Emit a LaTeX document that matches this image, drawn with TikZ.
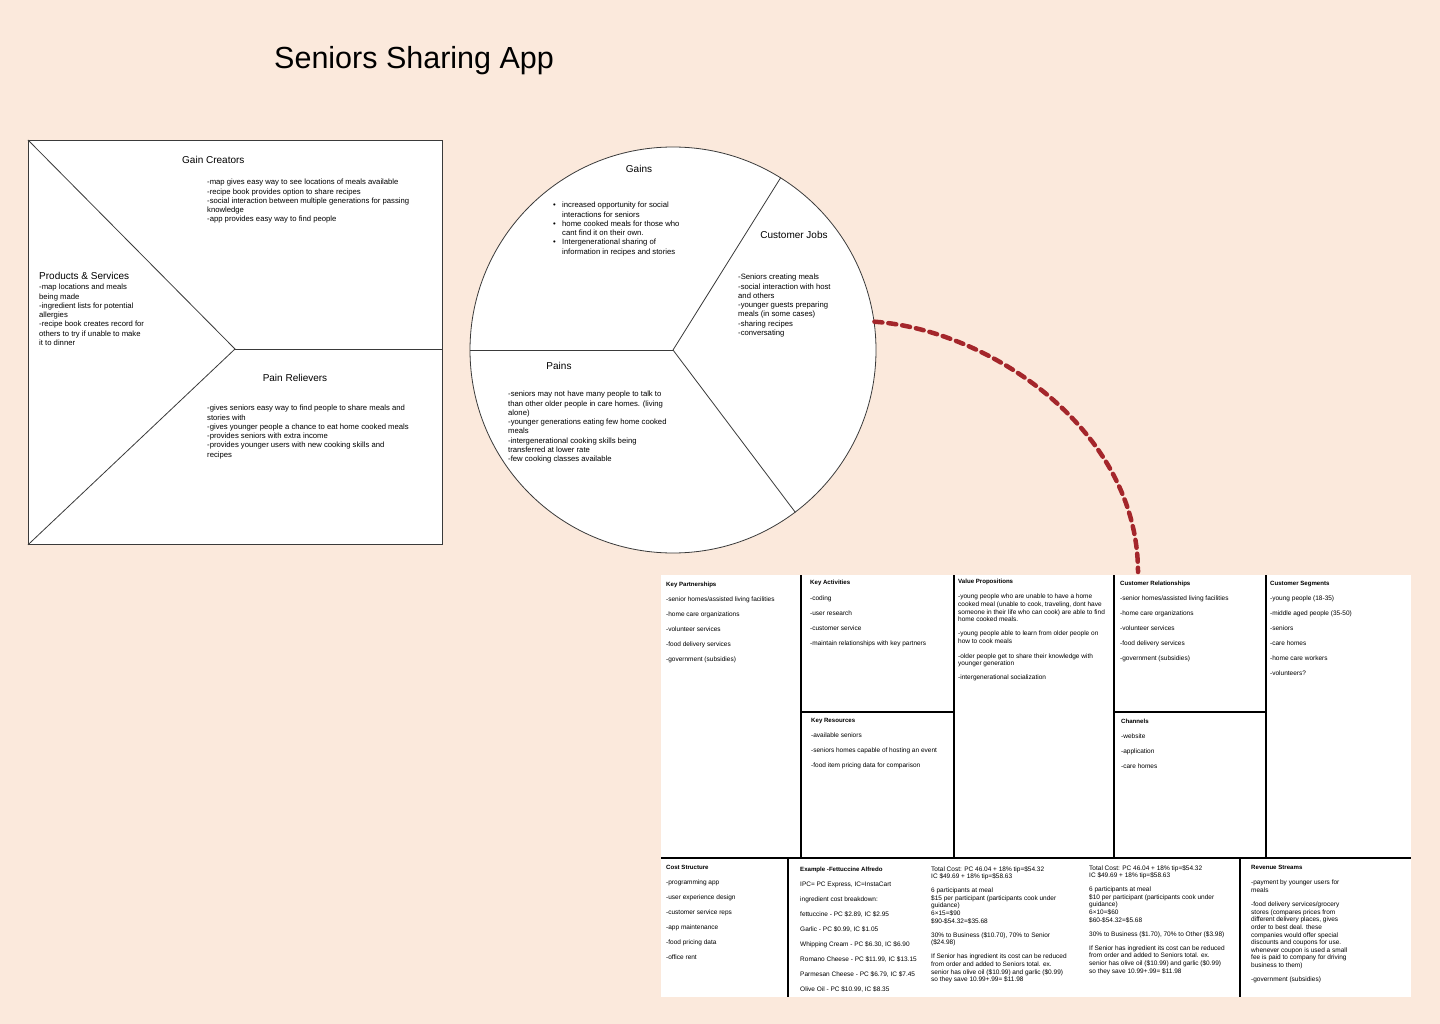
\documentclass[tikz,border=0pt]{standalone}
\usepackage{fontspec}
\setmainfont{Liberation Sans}
\definecolor{bgpeach}{HTML}{FBE9DC}
\definecolor{linegray}{HTML}{3A3A3A}
\definecolor{dashred}{HTML}{A4262B}
\begin{document}
\begin{tikzpicture}[x=1pt,y=-1pt,
  hd/.style={font=\fontsize{10}{12}\selectfont, inner sep=0},
  bd/.style={font=\fontsize{7.7}{9.25}\selectfont, align=left, inner sep=0, anchor=north west},
  bmchd/.style={font=\bfseries\fontsize{6.1}{7.6}\selectfont, inner sep=0, anchor=north west},
  bmcbd/.style={font=\fontsize{6.5}{7.6}\selectfont, align=left, inner sep=0, anchor=north west},
  thin line/.style={draw=linegray, line width=0.8pt},
  bmc line/.style={draw=black, line width=1.4pt},
  link/.style={draw=dashred, line width=4.5pt, dash pattern=on 8pt off 6pt, line cap=round}]
\fill[bgpeach] (0,0) rectangle (1440,1024);
\useasboundingbox (0,0) rectangle (1440,1024);

% title
\node[font=\fontsize{30.5}{34}\selectfont, anchor=west, inner sep=0] (title) at (274,61) {Seniors Sharing App};

% ---------- value map square ----------
\node[thin line, fill=white, minimum width=414, minimum height=404, inner sep=0, anchor=north west] (sq) at (28,140) {};
\coordinate (mid) at (235,349);
\draw[thin line] (sq.north west) -- (mid) -- (sq.south west);
\draw[thin line] (mid) -- (mid -| sq.east);

\node[hd, anchor=west] (gch) at (182,160) {Gain Creators};
\node[bd] (gcb) at (207,179) {-map gives easy way to see locations of meals available\\
-recipe book provides option to share recipes\\
-social interaction between multiple generations for passing\\
knowledge\\
-app provides easy way to find people};

\node[hd, anchor=west] (psh) at (39,276) {Products \& Services};
\node[bd] (psb) at (39,284) {-map locations and meals\\
being made\\
-ingredient lists for potential\\
allergies\\
-recipe book creates record for\\
others to try if unable to make\\
it to dinner};

\node[hd] (prh) at (295,378) {Pain Relievers};
\node[bd] (prb) at (207,405) {-gives seniors easy way to find people to share meals and\\
stories with\\
-gives younger people a chance to eat home cooked meals\\
-provides seniors with extra income\\
-provides younger users with new cooking skills and\\
recipes};

% ---------- customer profile circle ----------
\node[circle, thin line, fill=white, minimum size=406, inner sep=0] (vpc) at (673,350) {};
\draw[thin line] (vpc.center) -- (vpc.180);
\draw[thin line] (vpc.center) -- (vpc.58.5);
\draw[thin line] (vpc.center) -- (vpc.-53.6);

\node[hd] (gnh) at (639,169) {Gains};
\node[bd] (gnb) at (553,202) {\makebox[9pt][l]{\textbullet}increased opportunity for social\\
\hspace*{9pt}interactions for seniors\\
\makebox[9pt][l]{\textbullet}home cooked meals for those who\\
\hspace*{9pt}cant find it on their own.\\
\makebox[9pt][l]{\textbullet}Intergenerational sharing of\\
\hspace*{9pt}information in recipes and stories};

\node[hd] (cjh) at (794,235) {Customer Jobs};
\node[bd] (cjb) at (738,274) {-Seniors creating meals\\
-social interaction with host\\
and others\\
-younger guests preparing\\
meals (in some cases)\\
-sharing recipes\\
-conversating};

\node[hd] (pnh) at (559,366) {Pains};
\node[bd] (pnb) at (508,391) {-seniors may not have many people to talk to\\
than other older people in care homes. (living\\
alone)\\
-younger generations eating few home cooked\\
meals\\
-intergenerational cooking skills being\\
transferred at lower rate\\
-few cooking classes available};

% ---------- business model canvas ----------
\node[fill=white, minimum width=750, minimum height=422, inner sep=0, anchor=north west] (bmc) at (661,575) {};
\coordinate (cend) at (1138,572);
\draw[bmc line] (801,575) -- (801,858);
\draw[bmc line] (954,575) -- (954,858);
\draw[bmc line] (1114,575) -- (1114,858);
\draw[bmc line] (1266,575) -- (1266,858);
\draw[bmc line] (661,858) -- (1411,858);
\draw[bmc line] (801,712) -- (954,712);
\draw[bmc line] (1114,712) -- (1266,712);
\draw[bmc line] (788,858) -- (788,997);
\draw[bmc line] (1240,858) -- (1240,997);

\node[bmchd] (kph) at (666,582) {Key Partnerships};
\node[bmcbd] (kpb) at (666,597) {-senior homes/assisted living facilities\\[7.4pt]
-home care organizations\\[7.4pt]
-volunteer services\\[7.4pt]
-food delivery services\\[7.4pt]
-government (subsidies)};

\node[bmchd] (kah) at (810,580) {Key Activities};
\node[bmcbd] (kab) at (810,596) {-coding\\[7.4pt]
-user research\\[7.4pt]
-customer service\\[7.4pt]
-maintain relationships with key partners};

\node[bmchd] (krh) at (811,718) {Key Resources};
\node[bmcbd] (krb) at (811,733) {-available seniors\\[7.4pt]
-seniors homes capable of hosting an event\\[7.4pt]
-food item pricing data for comparison};

\node[bmchd] (vph) at (958,579) {Value Propositions};
\node[bmcbd] (vpb) at (958,594) {-young people who are unable to have a home\\
cooked meal (unable to cook, traveling, dont have\\
someone in their life who can cook) are able to find\\
home cooked meals.\\[6.5pt]
-young people able to learn from older people on\\
how to cook meals\\[7pt]
-older people get to share their knowledge with\\
younger generation\\[6.5pt]
-intergenerational socialization};

\node[bmchd] (crh) at (1120,581) {Customer Relationships};
\node[bmcbd] (crb) at (1120,596) {-senior homes/assisted living facilities\\[7.4pt]
-home care organizations\\[7.4pt]
-volunteer services\\[7.4pt]
-food delivery services\\[7.4pt]
-government (subsidies)};

\node[bmchd] (chh) at (1121,719) {Channels};
\node[bmcbd] (chb) at (1121,734) {-website\\[7.4pt]
-application\\[7.4pt]
-care homes};

\node[bmchd] (csh) at (1270,581) {Customer Segments};
\node[bmcbd] (csb) at (1270,596) {-young people (18-35)\\[7.4pt]
-middle aged people (35-50)\\[7.4pt]
-seniors\\[7.4pt]
-care homes\\[7.4pt]
-home care workers\\[7.4pt]
-volunteers?};

\node[bmchd] (cth) at (666,865) {Cost Structure};
\node[bmcbd] (ctb) at (666,880) {-programming app\\[7.4pt]
-user experience design\\[7.4pt]
-customer service reps\\[7.4pt]
-app maintenance\\[7.4pt]
-food pricing data\\[7.4pt]
-office rent};

\node[bmchd] (exh) at (800,867) {Example -Fettuccine Alfredo};
\node[bmcbd] (exb) at (800,882) {IPC= PC Express, IC=InstaCart\\[7.4pt]
ingredient cost breakdown:\\[7.4pt]
fettuccine - PC \$2.89, IC \$2.95\\[7.4pt]
Garlic - PC \$0.99, IC \$1.05\\[7.4pt]
Whipping Cream - PC \$6.30, IC \$6.90\\[7.4pt]
Romano Cheese - PC \$11.99, IC \$13.15\\[7.4pt]
Parmesan Cheese - PC \$6.79, IC \$7.45\\[7.4pt]
Olive Oil - PC \$10.99, IC \$8.35};

\node[bmcbd] (tc1) at (931,866) {Total Cost: PC 46.04 + 18\% tip=\$54.32\\
IC \$49.69 + 18\% tip=\$58.63\\[6.5pt]
6 participants at meal\\
\$15 per participant (participants cook under\\
guidance)\\
6×15=\$90\\
\$90-\$54.32=\$35.68\\[6.5pt]
30\% to Business (\$10.70), 70\% to Senior\\
(\$24.98)\\[6.5pt]
If Senior has ingredient its cost can be reduced\\
from order and added to Seniors total. ex.\\
senior has olive oil (\$10.99) and garlic (\$0.99)\\
so they save 10.99+.99= \$11.98};

\node[bmcbd] (tc2) at (1089,865) {Total Cost: PC 46.04 + 18\% tip=\$54.32\\
IC \$49.69 + 18\% tip=\$58.63\\[6.5pt]
6 participants at meal\\
\$10 per participant (participants cook under\\
guidance)\\
6×10=\$60\\
\$60-\$54.32=\$5.68\\[6.5pt]
30\% to Business (\$1.70), 70\% to Other (\$3.98)\\[6.5pt]
If Senior has ingredient its cost can be reduced\\
from order and added to Seniors total. ex.\\
senior has olive oil (\$10.99) and garlic (\$0.99)\\
so they save 10.99+.99= \$11.98};

\node[bmchd] (rsh) at (1251,865) {Revenue Streams};
\node[bmcbd] (rsb) at (1251,880) {-payment by younger users for\\
meals\\[6.5pt]
-food delivery services/grocery\\
stores (compares prices from\\
different delivery places, gives\\
order to best deal. these\\
companies would offer special\\
discounts and coupons for use.\\
whenever coupon is used a small\\
fee is paid to company for driving\\
business to them)\\[6.5pt]
-government (subsidies)};

% ---------- connector ----------
\draw[link] (vpc.8.4) .. controls (990,330) and (1138,430) .. (cend);
\end{tikzpicture}
\end{document}
